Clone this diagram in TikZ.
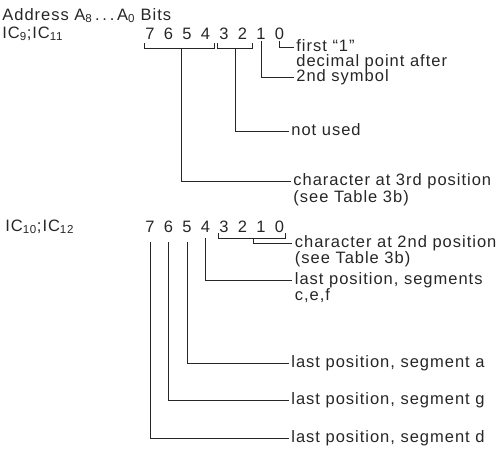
\documentclass[tikz,border=0pt]{standalone}
\usepackage{fontspec}
\setmainfont{Liberation Sans}[LetterSpace=6]
\usetikzlibrary{positioning}
\colorlet{ink}{black!85}
\tikzset{
  lbl/.style={anchor=west,inner xsep=2.5pt,inner ysep=0pt,text height=11pt,text depth=3pt,
    font=\fontsize{16.5}{17}\selectfont,text=ink},
  bit/.style={inner sep=1.5pt,text height=11pt,text depth=0pt,font=\fontsize{16.5}{17}\selectfont,text=ink},
}

\begin{document}
\begin{tikzpicture}[x=1pt,y=-1pt,line width=0.8pt,draw=ink]
\useasboundingbox (0,0) rectangle (501,451);
% headings
\node[lbl,inner xsep=0pt] (addr) at (2,16) {Address A\textsubscript{8}\,.\,.\,.\,A\textsubscript{0} Bits};
\node[lbl,inner xsep=0pt] (icup) at (2,34) {IC\textsubscript{9};IC\textsubscript{11}};
\node[lbl,inner xsep=0pt] (iclo) at (5,227) {IC\textsubscript{10};IC\textsubscript{12}};
% bit numbers
\foreach \b in {0,...,7} {
  \node[bit] (a\b) at ({279.5-18.5*\b},34) {\b};
  \node[bit] (b\b) at ({279.5-18.5*\b},227) {\b};
}
% upper labels
\node[lbl] (first) at (293.5,47) {first “1”};
\node[lbl] (dec) at (293.5,62) {decimal point after};
\node[lbl] (sym) at (293.5,77) {2nd symbol};
\node[lbl] (nused) at (288.5,131) {not used};
\node[lbl] (ch3) at (290.5,181) {character at 3rd position};
\node[lbl] (see3) at (290.5,198) {(see Table 3b)};
% lower labels
\node[lbl] (ch2) at (292,243) {character at 2nd position};
\node[lbl] (see2) at (292,259) {(see Table 3b)};
\node[lbl] (segs) at (292,280) {last position, segments};
\node[lbl] (cef) at (292,296) {c,e,f};
\node[lbl] (sega) at (288.5,363) {last position, segment a};
\node[lbl] (segg) at (288.5,400) {last position, segment g};
\node[lbl] (segd) at (288.5,438) {last position, segment d};
% upper brackets
\draw (144,43) -- (144,48) -- (214,48) -- (214,43);
\coordinate (hi) at (181,48);
\draw (217,43) -- (217,48) -- (252,48) -- (252,43);
\coordinate (mid) at (235,48);
\draw (hi) |- (ch3.west);
\draw (mid) |- (nused.west);
\draw (a1.south) |- (sym.west);
\draw (a0.south) |- (first.west);
% lower brackets
\draw (218,233) -- (218,238) -- (285,238) -- (285,233);
\coordinate (lo) at (253,238);
\draw (lo) |- (ch2.west);
\draw[shorten <=4pt] (b4.south) |- (segs.west);
\draw[shorten <=8pt] (b5.south) |- (sega.west);
\draw[shorten <=8pt] (b6.south) |- (segg.west);
\draw[shorten <=8pt] (b7.south) |- (segd.west);
\end{tikzpicture}
\end{document}
